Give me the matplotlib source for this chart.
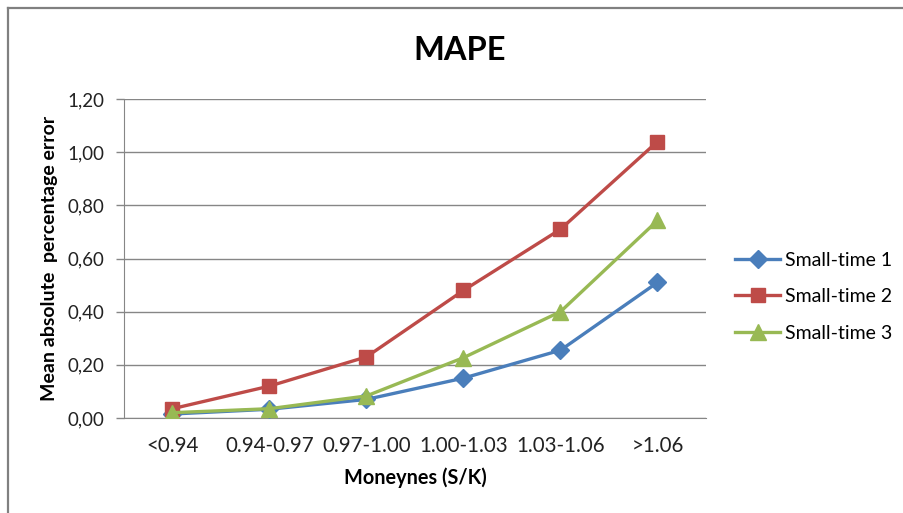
import matplotlib
matplotlib.use("Agg")
import matplotlib.pyplot as plt
from matplotlib.lines import Line2D

categories = ["<0.94", "0.94-0.97", "0.97-1.00", "1.00-1.03", "1.03-1.06", ">1.06"]
small_time_1 = [0.015, 0.033, 0.07, 0.15, 0.255, 0.51]
small_time_2 = [0.035, 0.12, 0.23, 0.48, 0.71, 1.04]
small_time_3 = [0.02, 0.035, 0.083, 0.227, 0.40, 0.743]
series_names = ["Small-time 1", "Small-time 2", "Small-time 3"]
y_ticks = [0.0, 0.2, 0.4, 0.6, 0.8, 1.0, 1.2]
y_tick_labels = ["0,00", "0,20", "0,40", "0,60", "0,80", "1,00", "1,20"]

plt.rcParams['font.family'] = ['Lato', 'DejaVu Sans']

fig = plt.figure(figsize=(9.04, 5.13), dpi=100)
ax = fig.add_axes([124/904, 1 - 418/513, 582/904, 319/513])

x = list(range(len(categories)))
ax.plot(x, small_time_1, color="#4A7EBB", lw=2.4, marker="D", ms=9.5,
        label=series_names[0], zorder=3)
ax.plot(x, small_time_2, color="#BE4B48", lw=2.4, marker="s", ms=10,
        label=series_names[1], zorder=3)
ax.plot(x, small_time_3, color="#98B954", lw=2.4, marker="^", ms=11,
        label=series_names[2], zorder=4)

ax.set_xlim(-0.5, len(categories) - 0.5)
ax.set_ylim(0, 1.2)
ax.set_yticks(y_ticks)
ax.set_yticklabels(y_tick_labels, fontsize=13.5, color="#222222")
ax.set_xticks(x)
ax.set_xticklabels(categories, fontsize=14.8, color="#222222")
ax.tick_params(axis="x", length=0, pad=13)
ax.tick_params(axis="y", length=6, width=1, color="#868686", pad=8)
ax.yaxis.grid(True, color="#868686", lw=1)
ax.set_axisbelow(True)
for s in ["top", "right"]:
    ax.spines[s].set_visible(False)
ax.spines["left"].set_color("#868686")
ax.spines["bottom"].set_color("#868686")

ax.set_xlabel("Moneynes (S/K)", fontsize=14.3, fontweight="bold", labelpad=8)
ax.set_ylabel("Mean absolute  percentage error", fontsize=14, fontweight="bold", labelpad=7)

fig.text(460/904, 1 - 50/513, "MAPE", fontsize=23.5, fontweight="bold",
         ha="center", va="center")

leg = ax.legend(loc="center left", bbox_to_anchor=(1.02, 0.38), frameon=False,
                fontsize=14, handlelength=2.3, labelspacing=1.0, handletextpad=0.25)

fig.add_artist(Line2D([8/904, 8/904], [0, 1 - 8/513], transform=fig.transFigure,
                      color="#808080", lw=1.6))
fig.add_artist(Line2D([8/904, 1], [1 - 8/513, 1 - 8/513], transform=fig.transFigure,
                      color="#808080", lw=1.6))

fig.savefig("out.png", dpi=100)
